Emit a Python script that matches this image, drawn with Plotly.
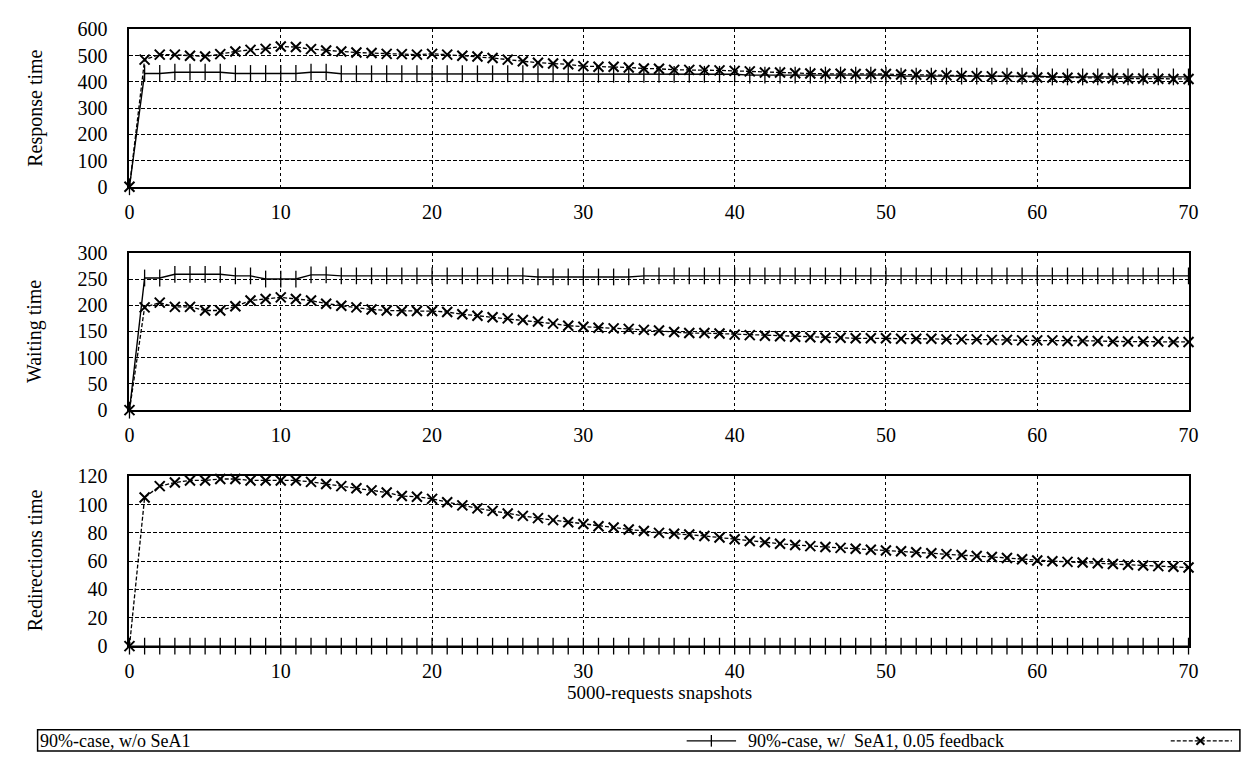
import plotly.graph_objects as go

# ---------------- data ----------------
snapshots = list(range(0, 71))

resp_without = [0, 432, 432, 437, 437, 437, 437, 432, 432, 432, 432, 432, 437, 437,
                431, 431, 431, 431, 431, 431, 431, 431, 431, 431, 431, 431, 431, 431, 431, 431, 431,
                429, 429, 429, 429, 429, 429, 429, 429, 429, 429,
                426, 426, 426, 426, 426, 426, 426, 426, 426, 426,
                422, 422, 422, 422, 422, 422, 422, 422, 422, 422,
                419, 419, 419, 419, 419, 419, 419, 419, 419, 419]
resp_with = [0, 485, 504, 504, 500, 497, 506, 516, 522, 526, 535, 533, 525, 520, 516, 512,
             510, 507, 506, 504, 507, 504, 500, 497, 491, 485, 479, 473, 470, 467, 460,
             458, 458, 455, 451, 450, 446, 446, 445, 444, 442, 440, 436, 436, 433, 432,
             431, 431, 430, 430, 430, 428, 427, 426, 425, 423, 422, 421, 420, 418, 417,
             417, 416, 415, 415, 414, 413, 413, 412, 411, 411]

wait_without = [0, 252, 252, 259, 259, 259, 259, 256, 256, 250, 250, 250, 258, 258,
                256, 256, 256, 256, 256, 256, 256, 256, 256, 256, 256, 256, 256,
                254, 254, 254, 254, 254, 254, 254,
                256, 256, 256, 256, 256, 256, 256, 256, 256, 256, 256, 256, 256, 256, 256, 256,
                256, 256, 256, 256, 256, 256, 256, 256, 256, 256, 256, 256, 256, 256, 256, 256,
                256, 256, 256, 256, 256]
wait_with = [0, 196, 205, 197, 197, 190, 190, 198, 209, 212, 215, 212, 209, 203, 199, 196,
             192, 190, 189, 189, 189, 187, 183, 180, 177, 175, 172, 169, 165, 161, 159,
             157, 156, 155, 153, 152, 149, 147, 147, 146, 144, 143, 142, 141, 140, 139,
             138, 138, 137, 137, 137, 136, 136, 136, 135, 135, 135, 134, 134, 133, 133,
             133, 132, 132, 132, 131, 131, 131, 131, 130, 130]

redir_without = [0] * 71
redir_with = [0, 105, 113, 115.5, 117, 117, 118, 118, 117, 117, 117, 117, 116, 114.5, 113,
              111.5, 110, 108.5, 106, 105.5, 104, 101.6, 99.4, 97.3, 95.5, 93.6, 92, 90.4,
              89, 87.5, 86.3, 84.7, 83.8, 82.4, 81.3, 80, 79.4, 78.8, 77.8, 76.7, 75.5,
              74.2, 73.3, 72.3, 71.4, 70.6, 70, 69.4, 68.8, 68.1, 67.5, 67, 66.3, 65.6,
              65, 64.3, 63.6, 63, 62.2, 61.3, 60.5, 60, 59.5, 59, 58.5, 58, 57.5, 57,
              56.5, 56, 55.5]

x_ticks = [0, 10, 20, 30, 40, 50, 60, 70]
panel_titles = ["Response time", "Waiting time", "Redirections time"]
panel_ranges = [[0, 600], [0, 300], [0, 120]]
panel_dticks = [100, 50, 20]
x_title = "5000-requests snapshots"
legend_labels = ["90%-case, w/o SeA1", "90%-case, w/  SeA1, 0.05 feedback"]

# ---------------- layout helpers ----------------
W, H = 1242, 763
FONT = "Liberation Serif"


def py(p):
    return 1 - p / H


def px(p):
    return p / W


x_dom = [px(126), px(1198)]
y_doms = [[py(181), py(19)], [py(411), py(249)], [py(654), py(479)]]
title_centers = [100, 330, 566]

fig = go.Figure()

series_pairs = [(resp_without, resp_with), (wait_without, wait_with), (redir_without, redir_with)]
for i, (s_wo, s_w) in enumerate(series_pairs):
    xa = "x" if i == 0 else f"x{i+1}"
    ya = "y" if i == 0 else f"y{i+1}"
    fig.add_trace(go.Scatter(
        x=snapshots, y=s_wo, xaxis=xa, yaxis=ya, mode="lines+markers",
        line=dict(color="black", width=1.4),
        marker=dict(symbol="line-ns-open", size=12, line=dict(color="black", width=1.3)),
        cliponaxis=False, showlegend=False, name=legend_labels[0]))
    fig.add_trace(go.Scatter(
        x=snapshots, y=s_w, xaxis=xa, yaxis=ya, mode="lines+markers",
        line=dict(color="black", width=1.3, dash="4px,2px"),
        marker=dict(symbol="x-thin-open", size=10, line=dict(color="black", width=2)),
        cliponaxis=False, showlegend=False, name=legend_labels[1]))

layout = dict(
    width=W, height=H, autosize=False,
    margin=dict(l=0, r=0, t=0, b=0),
    paper_bgcolor="white", plot_bgcolor="white",
    font=dict(family=FONT, size=20, color="black"),
    showlegend=False,
)

for i in range(3):
    xk = "xaxis" if i == 0 else f"xaxis{i+1}"
    yk = "yaxis" if i == 0 else f"yaxis{i+1}"
    ya = "y" if i == 0 else f"y{i+1}"
    xa = "x" if i == 0 else f"x{i+1}"
    layout[xk] = dict(
        domain=x_dom, anchor=ya, range=[0, 70], tickvals=x_ticks,
        showline=True, mirror=True, linecolor="black", linewidth=1.8,
        showgrid=True, gridcolor="black", griddash="dot", gridwidth=1.2,
        zeroline=False, ticks="", ticklabelstandoff=6,
        tickfont=dict(family=FONT, size=20, color="black"),
    )
    layout[yk] = dict(
        domain=y_doms[i], anchor=xa, range=panel_ranges[i], dtick=panel_dticks[i],
        showline=True, mirror=True, linecolor="black", linewidth=1.8,
        showgrid=True, gridcolor="black", griddash="4px,2px", gridwidth=1.2,
        zeroline=False, ticks="", ticklabelstandoff=16,
        tickfont=dict(family=FONT, size=20, color="black"),
    )

fig.update_layout(**layout)

annotations = []
for i, t in enumerate(panel_titles):
    annotations.append(dict(
        text=t, xref="paper", yref="paper", x=px(30), y=py(title_centers[i]),
        textangle=-90, showarrow=False, xanchor="center", yanchor="middle",
        font=dict(family=FONT, size=20, color="black")))
annotations.append(dict(
    text=x_title, xref="paper", yref="paper", x=px(662), y=py(702),
    showarrow=False, xanchor="center", yanchor="middle",
    font=dict(family=FONT, size=19, color="black")))

# custom legend (text followed by line sample)
leg_y = 751.5
annotations.append(dict(
    text=legend_labels[0], xref="paper", yref="paper", x=px(33), y=py(leg_y),
    showarrow=False, xanchor="left", yanchor="middle",
    font=dict(family=FONT, size=18, color="black")))
annotations.append(dict(
    text=legend_labels[1], xref="paper", yref="paper", x=px(750), y=py(leg_y),
    showarrow=False, xanchor="left", yanchor="middle",
    font=dict(family=FONT, size=18, color="black")))

shapes = [
    dict(type="rect", xref="paper", yref="paper", x0=px(33), x1=px(1250),
         y0=py(762), y1=py(740), line=dict(color="black", width=1.5)),
    # sample 1: solid line with vertical tick
    dict(type="line", xref="paper", yref="paper", x0=px(690), x1=px(740),
         y0=py(leg_y), y1=py(leg_y), line=dict(color="black", width=1.3)),
    dict(type="line", xref="paper", yref="paper", x0=px(715), x1=px(715),
         y0=py(leg_y - 6), y1=py(leg_y + 6), line=dict(color="black", width=1.3)),
    # sample 2: dashed line with x
    dict(type="line", xref="paper", yref="paper", x0=px(1180), x1=px(1242),
         y0=py(leg_y), y1=py(leg_y), line=dict(color="black", width=1.3, dash="4px,2px")),
    dict(type="line", xref="paper", yref="paper", x0=px(1206), x1=px(1214),
         y0=py(leg_y - 4), y1=py(leg_y + 4), line=dict(color="black", width=2)),
    dict(type="line", xref="paper", yref="paper", x0=px(1206), x1=px(1214),
         y0=py(leg_y + 4), y1=py(leg_y - 4), line=dict(color="black", width=2)),
]

fig.update_layout(annotations=annotations, shapes=shapes)
fig.write_html(
    "out.html",
    config={"displayModeBar": False},
    post_script="document.body.style.margin='0';document.body.style.padding='0';",
)
